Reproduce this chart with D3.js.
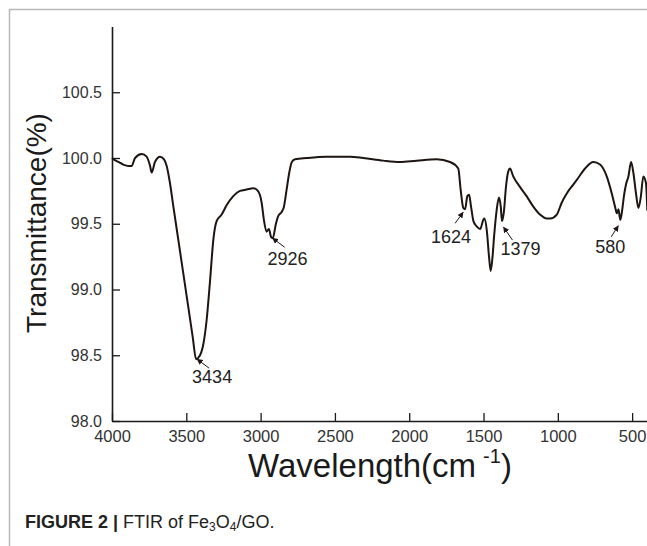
<!DOCTYPE html>
<html>
<head>
<meta charset="utf-8">
<script src="https://cdn.jsdelivr.net/npm/d3@7"></script>
<style>
  body { margin: 0; background: #fff; }
  text { font-family: "Liberation Sans", Arial, sans-serif; }
</style>
</head>
<body>
<div id="chart"></div>
<script>
// FTIR spectrum of Fe3O4/GO
var wavenumber = [4000, 3990, 3958, 3924, 3890, 3867, 3845, 3800, 3767, 3744, 3733, 3711, 3677, 3650, 3632,
  3610, 3587, 3554, 3520, 3487, 3457, 3434, 3420, 3400, 3386, 3363, 3340, 3318, 3296, 3262, 3229, 3184,
  3139, 3094, 3050, 3027, 3005, 2993, 2978, 2960, 2944, 2930, 2918, 2897, 2881, 2858, 2843, 2825, 2807,
  2790, 2768, 2690, 2556, 2398, 2309, 2175, 2062, 1950, 1815, 1725, 1670, 1654, 1636, 1624, 1609, 1597,
  1584, 1568, 1546, 1523, 1501, 1494, 1478, 1463, 1452, 1441, 1427, 1411, 1396, 1384, 1376, 1363, 1349,
  1333, 1322, 1300, 1255, 1210, 1165, 1120, 1075, 1052, 1007, 974, 940, 895, 862, 817, 761, 716, 671,
  637, 615, 603, 592, 580, 570, 554, 541, 525, 507, 492, 474, 458, 441, 425, 407, 398];
var transmittance = [100.00, 99.99, 99.97, 99.95, 99.94, 99.94, 100.00, 100.03, 100.01, 99.94, 99.89, 99.97, 100.01, 99.99, 99.94,
  99.81, 99.63, 99.38, 99.12, 98.87, 98.64, 98.47, 98.48, 98.52, 98.58, 98.77, 99.07, 99.38, 99.52, 99.57, 99.64, 99.71,
  99.75, 99.76, 99.77, 99.76, 99.72, 99.66, 99.53, 99.44, 99.46, 99.40, 99.39, 99.50, 99.56, 99.59, 99.63, 99.76, 99.89,
  99.97, 99.99, 100.00, 100.01, 100.01, 100.00, 99.98, 99.97, 99.98, 99.99, 99.97, 99.92, 99.76, 99.62, 99.61, 99.71, 99.72,
  99.63, 99.52, 99.48, 99.46, 99.53, 99.54, 99.45, 99.25, 99.14, 99.23, 99.43, 99.61, 99.70, 99.63, 99.52, 99.59, 99.78,
  99.90, 99.92, 99.86, 99.78, 99.71, 99.63, 99.57, 99.54, 99.54, 99.57, 99.66, 99.73, 99.80, 99.85, 99.92, 99.97, 99.95, 99.86,
  99.73, 99.63, 99.58, 99.61, 99.53, 99.58, 99.72, 99.80, 99.86, 99.97, 99.89, 99.73, 99.62, 99.71, 99.86, 99.81, 99.60];

var xTicks = [4000, 3500, 3000, 2500, 2000, 1500, 1000, 500];
var yTicks = [98.0, 98.5, 99.0, 99.5, 100.0, 100.5];

// marked peaks
var peakLabels = ["3434", "2926", "1624", "1379", "580"];
var peakWavenumber = [3434, 2926, 1624, 1379, 580];
var peakValue = [98.47, 99.39, 99.61, 99.52, 99.53];

var width = 647, height = 546;

var svg = d3.select("#chart")
  .append("svg")
  .attr("width", width)
  .attr("height", height);

// page frame
svg.append("path")
  .attr("d", "M9.5," + height + "V9.5H" + width)
  .attr("fill", "none")
  .attr("stroke", "#b8b8b8")
  .attr("stroke-width", 1.5);

var x = d3.scaleLinear()
  .domain([4000, 400])
  .range([112, 647]);

var y = d3.scaleLinear()
  .domain([98, 101])
  .range([421, 26.5]);

// axes, ticks pointing inward
var xAxis = svg.append("g")
  .attr("transform", "translate(0," + y(98) + ")")
  .call(d3.axisBottom(x)
    .tickValues(xTicks)
    .tickFormat(d3.format("d"))
    .tickSize(-8)
    .tickSizeOuter(0)
    .tickPadding(9));

var yAxis = svg.append("g")
  .attr("transform", "translate(" + x(4000) + ",0)")
  .call(d3.axisLeft(y)
    .tickValues(yTicks)
    .tickFormat(d3.format(".1f"))
    .tickSize(-8)
    .tickSizeOuter(0)
    .tickPadding(10));

svg.selectAll(".domain").attr("stroke", "#1a1a1a").attr("stroke-width", 1.6);
svg.selectAll(".tick line").attr("stroke", "#1a1a1a").attr("stroke-width", 1.3);
svg.selectAll(".tick text")
  .attr("font-family", "'Liberation Sans', Arial, sans-serif")
  .attr("font-size", 16)
  .attr("fill", "#333");
xAxis.selectAll(".tick text").attr("font-size", 16.5);

// spectrum
var line = d3.line()
  .x(function(d, i) { return x(wavenumber[i]); })
  .y(function(d) { return y(d); })
  .curve(d3.curveMonotoneX);

svg.append("path")
  .datum(transmittance)
  .attr("fill", "none")
  .attr("stroke", "#1e1512")
  .attr("stroke-width", 2)
  .attr("stroke-linejoin", "round")
  .attr("d", line);

// arrow head
svg.append("defs").append("marker")
  .attr("id", "arrow")
  .attr("viewBox", "0 0 10 10")
  .attr("refX", 9)
  .attr("refY", 5)
  .attr("markerWidth", 6)
  .attr("markerHeight", 6)
  .attr("markerUnits", "userSpaceOnUse")
  .attr("orient", "auto")
  .append("path")
  .attr("d", "M0,0L10,5L0,10z")
  .attr("fill", "#1e1512");

// label placement relative to each peak: [tipDx, tipDy, tailDx, tailDy, textDx, textDy]
var annOffset = [
  [1, 0, 13, 9, 16, 24],
  [1, 0, 13, 9, 16, 27],
  [-2, 3, -10, 14, -14, 34],
  [2, 6, 11, 19, 19, 34],
  [-2, 6, -9, 17, -10, 33]
];

var ann = svg.selectAll(".ann")
  .data(peakLabels)
  .enter()
  .append("g")
  .attr("class", "ann")
  .attr("transform", function(d, i) {
    return "translate(" + x(peakWavenumber[i]) + "," + y(peakValue[i]) + ")";
  });

ann.append("line")
  .attr("x1", function(d, i) { return annOffset[i][2]; })
  .attr("y1", function(d, i) { return annOffset[i][3]; })
  .attr("x2", function(d, i) { return annOffset[i][0]; })
  .attr("y2", function(d, i) { return annOffset[i][1]; })
  .attr("stroke", "#1e1512")
  .attr("stroke-width", 1)
  .attr("marker-end", "url(#arrow)");

ann.append("text")
  .attr("x", function(d, i) { return annOffset[i][4]; })
  .attr("y", function(d, i) { return annOffset[i][5]; })
  .attr("text-anchor", "middle")
  .attr("font-size", 18)
  .attr("fill", "#222")
  .text(function(d) { return d; });

// axis titles
svg.append("text")
  .attr("transform", "translate(46,223) rotate(-90)")
  .attr("text-anchor", "middle")
  .attr("font-size", 28)
  .attr("fill", "#1a1a1a")
  .text("Transmittance(%)");

var xt = svg.append("text")
  .attr("x", 380)
  .attr("y", 477)
  .attr("text-anchor", "middle")
  .attr("font-size", 33)
  .attr("fill", "#1a1a1a");
xt.append("tspan").text("Wavelength(cm");
xt.append("tspan").attr("dx", 7).attr("dy", -14).attr("font-size", 20).text("-1");
xt.append("tspan").attr("dy", 14).text(")");

// caption
var cap = svg.append("text")
  .attr("x", 25)
  .attr("y", 528)
  .attr("font-size", 18)
  .attr("fill", "#222");
cap.append("tspan").attr("font-weight", "bold").text("FIGURE 2 | ");
cap.append("tspan").text("FTIR of Fe");
cap.append("tspan").attr("font-size", 12).attr("dy", 3).text("3");
cap.append("tspan").attr("dy", -3).text("O");
cap.append("tspan").attr("font-size", 12).attr("dy", 3).text("4");
cap.append("tspan").attr("dy", -3).text("/GO.");
</script>
</body>
</html>
